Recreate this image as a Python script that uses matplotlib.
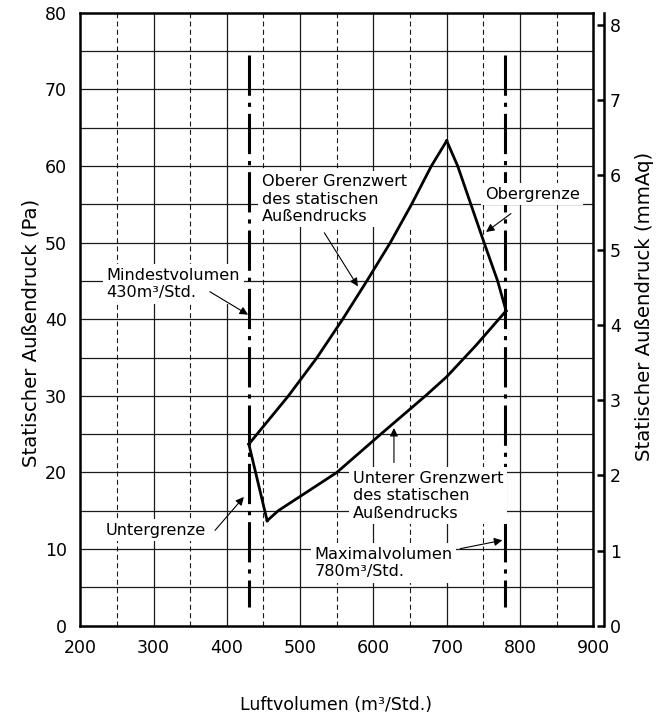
import matplotlib
matplotlib.use('Agg')
import matplotlib.pyplot as plt

plt.rcParams['font.family'] = ['DejaVu Sans']
plt.rcParams['lines.scale_dashes'] = False

# ---- data ----
x_ticks = [200, 300, 400, 500, 600, 700, 800, 900]
y_ticks_pa = [0, 10, 20, 30, 40, 50, 60, 70, 80]
y_ticks_mmaq = [0, 1, 2, 3, 4, 5, 6, 7, 8]
solid_vgrid = [300, 400, 500, 600, 700, 800]
dashed_vgrid = [250, 350, 450, 550, 650, 750, 850]
hgrid = [5, 10, 15, 20, 25, 30, 35, 40, 45, 50, 55, 60, 65, 70, 75]

upper_x = [430, 484, 523, 558, 591, 623, 652, 679, 700]
upper_y = [23.7, 30, 35, 40, 45, 50, 55, 60, 63.3]
right_x = [700, 715, 733, 751, 769.5, 781]
right_y = [63.3, 60, 55, 50, 45, 41.1]
lower_x = [455, 470, 550, 610, 671, 700, 740, 781]
lower_y = [13.7, 15, 20, 25, 30, 32.5, 36.6, 41.1]
left_x = [430, 455]
left_y = [23.7, 13.7]

min_volume = 430
max_volume = 780
limit_line_range = [74.5, 2.5]
PA_PER_MMAQ = 9.80665

fig = plt.figure(figsize=(6.64, 7.2), dpi=100)
ax = fig.add_axes([0.1209, 0.131, 0.8935 - 0.1209, 0.9821 - 0.131])
ax.set_xlim(200, 900)
ax.set_ylim(0, 80)
ax.set_xticks(x_ticks)
ax.set_yticks(y_ticks_pa)
ax.tick_params(length=0, pad=9.5, labelsize=12.5)
for s in ax.spines.values():
    s.set_linewidth(1.8)
    s.set_zorder(6)

gc = '#1a1a1a'
for y in hgrid:
    ax.axhline(y, color=gc, lw=0.9, zorder=1)
for x in solid_vgrid:
    ax.axvline(x, color=gc, lw=0.9, zorder=1)
for x in dashed_vgrid:
    ax.axvline(x, color=gc, lw=0.8, ls=(0, (3.6, 2.4)), zorder=1)

# limit lines (dash-dot)
for xv in [min_volume, max_volume]:
    ax.plot([xv, xv], limit_line_range, color='black', lw=2.2,
            ls=(0, (29, 5, 3, 5)), zorder=3, solid_capstyle='butt', dash_capstyle='butt')

# operating range outline
for xs, ys in [(upper_x, upper_y), (right_x, right_y), (lower_x, lower_y), (left_x, left_y)]:
    ax.plot(xs, ys, color='black', lw=2.0, zorder=5, solid_joinstyle='miter')

box = dict(facecolor='white', edgecolor='none', pad=2.5)
fs = 11.6

def label(x, y, s, **kw):
    ax.text(x, y, s, fontsize=fs, ha='left', va='top', bbox=box, zorder=4,
            linespacing=1.2, **kw)

def arrow(tail, head):
    ax.annotate('', xy=head, xytext=tail, zorder=5,
                arrowprops=dict(arrowstyle='-|>', color='black', lw=0.8,
                                mutation_scale=12, shrinkA=0, shrinkB=0))

label(448, 58.95, 'Oberer Grenzwert\ndes statischen\nAußendrucks')
arrow((533, 51.3), (578.8, 44.3))

label(752, 57.3, 'Obergrenze')
arrow((787.7, 53.8), (753.7, 51.4))

label(236, 46.7, 'Mindestvolumen\n430m³/Std.')
arrow((376.8, 43.6), (428.9, 40.6))

label(235, 13.45, 'Untergrenze')
arrow((383.9, 12.45), (423.2, 16.8))

label(572, 20.2, 'Unterer Grenzwert\ndes statischen\nAußendrucks')
arrow((628, 21.3), (628, 25.8))

label(519.7, 10.3, 'Maximalvolumen\n780m³/Std.')
arrow((718.4, 10.05), (775.9, 11.15))

# secondary axis in mmAq
ax2 = ax.twinx()
ax2.set_ylim(0, 80 / PA_PER_MMAQ)
ax2.set_yticks(y_ticks_mmaq)
for k in ['left', 'top', 'bottom']:
    ax2.spines[k].set_visible(False)
ax2.spines['right'].set_position(('outward', 8))
ax2.spines['right'].set_linewidth(1.8)
ax2.tick_params(direction='in', length=5, width=1.8, pad=4, labelsize=12.5)

fig.text(31 / 664, 1 - 333 / 720, 'Statischer Außendruck (Pa)', rotation=90,
         ha='center', va='center', fontsize=14.2)
fig.text(645 / 664, 1 - 306 / 720, 'Statischer Außendruck (mmAq)', rotation=90,
         ha='center', va='center', fontsize=14.2)
fig.text(336 / 664, 1 - 705 / 720, 'Luftvolumen (m³/Std.)',
         ha='center', va='center', fontsize=12.5)

fig.savefig('out.png', dpi=100)
